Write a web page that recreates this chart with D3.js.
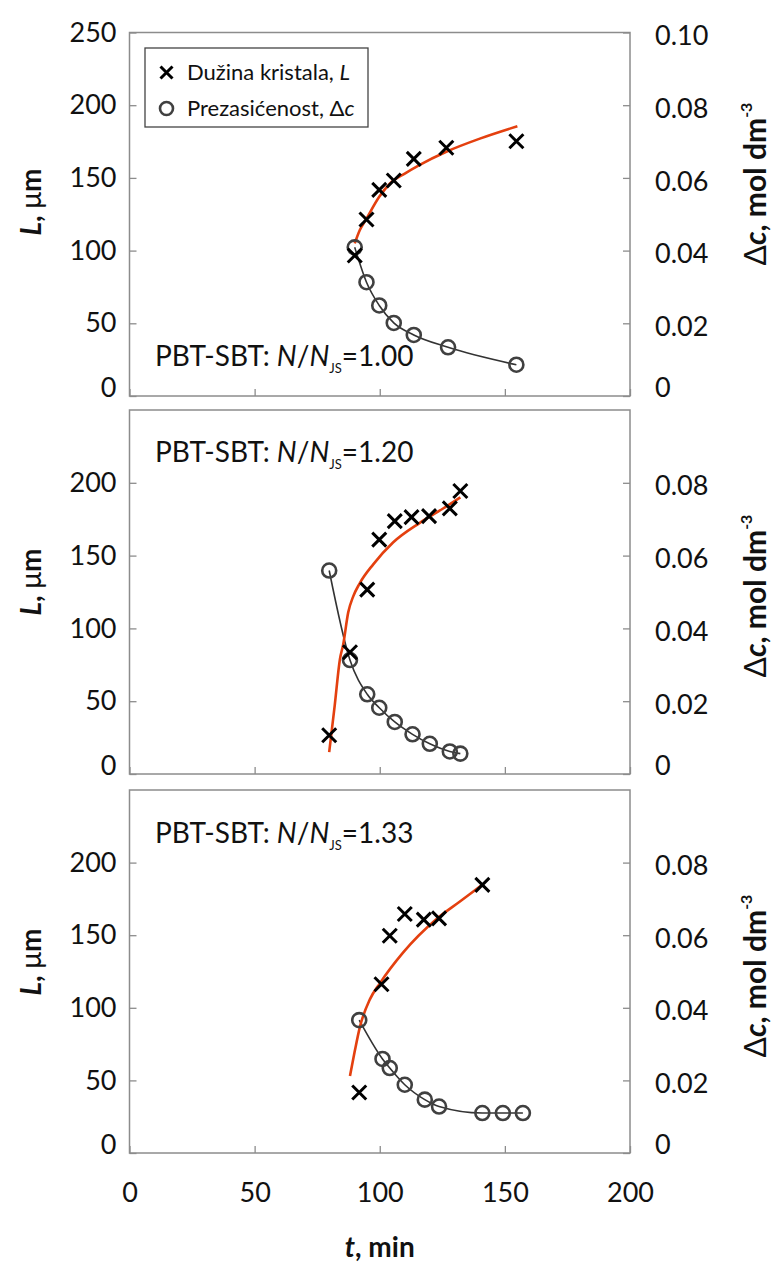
<!DOCTYPE html>
<html><head><meta charset="utf-8">
<script src="https://cdn.jsdelivr.net/npm/d3@7"></script>
<style>
body{margin:0;background:#fff}
svg text{font-family:Lato,"Open Sans","Noto Sans",sans-serif;fill:#111}
</style>
</head><body>
<svg id="chart" width="772" height="1266"></svg>
<script>
// ---------- data ----------
const tTicks = [0, 50, 100, 150, 200];
const lTicksTop = [0, 50, 100, 150, 200, 250];
const lTicksOther = [0, 50, 100, 150, 200];
const cTicksTop = [0, 0.02, 0.04, 0.06, 0.08, 0.10];
const cTicksOther = [0, 0.02, 0.04, 0.06, 0.08];
const ratioLabels = ["1.00", "1.20", "1.33"];

// panel 1 (N/NJS = 1.00)
const t1L = [90.0, 94.7, 99.8, 105.6, 113.6, 126.6, 154.6];
const L1  = [96.6, 121.4, 141.8, 148.2, 163.1, 170.7, 175.2];
const t1C = [90.0, 94.7, 99.8, 105.6, 113.6, 127.3, 154.6];
const C1  = [0.0409, 0.0313, 0.0249, 0.0201, 0.0168, 0.0134, 0.0086];
const fit1t = [90, 92, 94.7, 99.8, 104, 110, 116, 126.6, 140, 155];
const fit1L = [105, 114, 122, 137, 146, 153, 159, 168, 177, 185.5];

// panel 2 (N/NJS = 1.20)
const t2L = [79.8, 88.1, 95.0, 99.8, 106.0, 112.7, 119.7, 128.0, 132.2];
const L2  = [26.6, 83.6, 126.6, 161.0, 173.7, 176.4, 177.1, 182.4, 194.4];
const t2C = [79.8, 88.1, 95.0, 99.8, 106.0, 113.1, 120.0, 128.0, 132.2];
const C2  = [0.0559, 0.0313, 0.0219, 0.0182, 0.0143, 0.0109, 0.0083, 0.0062, 0.0056];
const fit2t = [79.8, 82, 84.1, 85.4, 87.4, 89.4, 92, 97.4, 105.3, 116, 125, 132.2];
const fit2L = [15, 47, 79, 89, 111, 122, 131, 144, 159, 172.5, 182, 190];

// panel 3 (N/NJS = 1.33)
const t3L = [91.8, 100.7, 104.0, 110.0, 117.6, 123.7, 141.0];
const L3  = [41.7, 116.2, 149.6, 164.6, 160.7, 161.6, 184.7];
const t3C = [91.8, 101.1, 104.0, 110.0, 118.0, 123.7, 141.0, 149.2, 157.2];
const C3  = [0.0366, 0.0259, 0.0234, 0.0188, 0.0147, 0.0128, 0.011, 0.011, 0.011];
const fit3t = [88.1, 90, 92.1, 96.1, 100.1, 109.3, 122.6, 131.9, 141.2];
const fit3L = [53, 70, 87, 106, 117, 138, 161, 173, 185];

const legendLabels = ["Dužina kristala, ", "Prezasićenost, "];

// ---------- layout ----------
const svg = d3.select("#chart");
const X0 = 129.5, X1 = 630;
const panels = [
  {top: 32.5, bottom: 396, tL: t1L, L: L1, tC: t1C, C: C1, ft: fit1t, fL: fit1L,
   lT: lTicksTop, cT: cTicksTop, label: ratioLabels[0], labelY: 366, yTitleL: 202, yTitleR: 184},
  {top: 410, bottom: 774, tL: t2L, L: L2, tC: t2C, C: C2, ft: fit2t, fL: fit2L,
   lT: lTicksOther, cT: cTicksOther, label: ratioLabels[1], labelY: 462, yTitleL: 582, yTitleR: 596},
  {top: 790, bottom: 1153, tL: t3L, L: L3, tC: t3C, C: C3, ft: fit3t, fL: fit3L,
   lT: lTicksOther, cT: cTicksOther, label: ratioLabels[2], labelY: 843, yTitleL: 962, yTitleR: 976}
];

const x = d3.scaleLinear().domain([0, 200]).range([X0, X1]);
const gridColor = "#8c8c8c";
const red = "#e4400f";
const circColor = "#404040";

function xMarker(g, cx, cy, h, w) {
  g.append("path")
    .attr("d", `M${cx-h},${cy-h}L${cx+h},${cy+h}M${cx-h},${cy+h}L${cx+h},${cy-h}`)
    .attr("stroke", "#000").attr("stroke-width", w).attr("fill", "none");
}

panels.forEach((p, i) => {
  const yL = d3.scaleLinear().domain([0, 250]).range([p.bottom, p.top]);
  const yC = d3.scaleLinear().domain([0, 0.10]).range([p.bottom, p.top]);
  const g = svg.append("g");

  // frame
  g.append("rect").attr("x", X0).attr("y", p.top)
    .attr("width", X1 - X0).attr("height", p.bottom - p.top)
    .attr("fill", "none").attr("stroke", gridColor).attr("stroke-width", 1.5);

  // left axis
  const ax = g.append("g").attr("transform", `translate(${X0},0)`)
    .call(d3.axisLeft(yL).tickValues(p.lT).tickSize(-7).tickPadding(13).tickFormat(d3.format("d")));
  // right axis
  const ar = g.append("g").attr("transform", `translate(${X1},0)`)
    .call(d3.axisRight(yC).tickValues(p.cT).tickSize(-7).tickPadding(25)
      .tickFormat(d => d === 0 ? "0" : d3.format(".2f")(d)));
  // bottom axis
  const ab = g.append("g").attr("transform", `translate(0,${p.bottom})`)
    .call(d3.axisBottom(x).tickValues(tTicks).tickSize(-7).tickPadding(30)
      .tickFormat(i === 2 ? d3.format("d") : () => ""));
  [ax, ar, ab].forEach(a => {
    a.select(".domain").remove();
    a.selectAll(".tick line").attr("stroke", gridColor).attr("stroke-width", 1.3);
    a.selectAll(".tick text").attr("font-size", 27).attr("fill", "#111")
      .style("font-family", "Lato, 'Open Sans', sans-serif");
  });
  ax.selectAll(".tick text").filter(d => d === 0).attr("dy", "0.0em");
  ar.selectAll(".tick text").filter(d => d === 0).attr("dy", "0.0em");
  ar.selectAll(".tick text").filter(d => d !== 0).attr("dy", "0.45em");

  // black line through Δc points
  const cPts = p.tC.map((t, k) => [x(t), yC(p.C[k])]);
  g.append("path").attr("d", d3.line().curve(d3.curveMonotoneX)(cPts))
    .attr("fill", "none").attr("stroke", "#333").attr("stroke-width", 1.6);

  // red fit line for L
  const fPts = p.ft.map((t, k) => [x(t), yL(p.fL[k])]);
  g.append("path").attr("d", d3.line().curve(d3.curveMonotoneX)(fPts))
    .attr("fill", "none").attr("stroke", red).attr("stroke-width", 2.6);

  // circles
  g.selectAll("circle.dc").data(cPts).join("circle")
    .attr("cx", d => d[0]).attr("cy", d => d[1]).attr("r", 7)
    .attr("fill", "none").attr("stroke", circColor).attr("stroke-width", 2.6);

  // X markers
  p.tL.forEach((t, k) => xMarker(g, x(t), yL(p.L[k]), 7, 3));

  // panel label
  const lt = g.append("text").attr("x", 155).attr("y", p.labelY)
    .attr("font-size", 28);
  lt.append("tspan").text("PBT-SBT: ");
  lt.append("tspan").attr("font-style", "italic").text("N");
  lt.append("tspan").text("/");
  lt.append("tspan").attr("font-style", "italic").text("N");
  lt.append("tspan").attr("font-size", 13).attr("dy", 7).text("JS");
  lt.append("tspan").attr("dy", -7).text("=" + p.label);

  // left axis title
  const tl = g.append("text")
    .attr("transform", `translate(41,${p.yTitleL}) rotate(-90)`)
    .attr("text-anchor", "middle").attr("font-size", 28).attr("font-weight", "bold");
  tl.append("tspan").attr("font-style", "italic").text("L");
  tl.append("tspan").text(", ");
  tl.append("tspan").attr("font-weight", "normal").text("μ");
  tl.append("tspan").text("m");

  // right axis title
  const tr = g.append("text")
    .attr("transform", `translate(766,${p.yTitleR}) rotate(-90)`)
    .attr("text-anchor", "middle").attr("font-size", 30).attr("font-weight", "bold");
  tr.append("tspan").attr("font-weight", "normal").text("Δ");
  tr.append("tspan").attr("font-style", "italic").text("c");
  tr.append("tspan").text(", mol dm");
  tr.append("tspan").attr("font-size", 16).attr("dy", -14).text("-3");
});

// x-axis title
const xt = svg.append("text").attr("x", x(100)).attr("y", 1257)
  .attr("text-anchor", "middle").attr("font-size", 28).attr("font-weight", "bold");
xt.append("tspan").attr("font-style", "italic").text("t");
xt.append("tspan").text(", min");

// legend
const lg = svg.append("g");
lg.append("rect").attr("x", 145).attr("y", 48).attr("width", 223).attr("height", 79)
  .attr("fill", "#fff").attr("stroke", "#444").attr("stroke-width", 1.3);
xMarker(lg, 166.5, 72.5, 6, 3);
lg.append("circle").attr("cx", 166.5).attr("cy", 108.5).attr("r", 6.5)
  .attr("fill", "none").attr("stroke", circColor).attr("stroke-width", 2.6);
const l1 = lg.append("text").attr("x", 187).attr("y", 79.5).attr("font-size", 22);
l1.append("tspan").text(legendLabels[0]);
l1.append("tspan").attr("font-style", "italic").text("L");
const l2 = lg.append("text").attr("x", 187).attr("y", 115.5).attr("font-size", 22);
l2.append("tspan").text(legendLabels[1]);
l2.append("tspan").text("Δ");
l2.append("tspan").attr("font-style", "italic").text("c");
</script>
</body></html>
